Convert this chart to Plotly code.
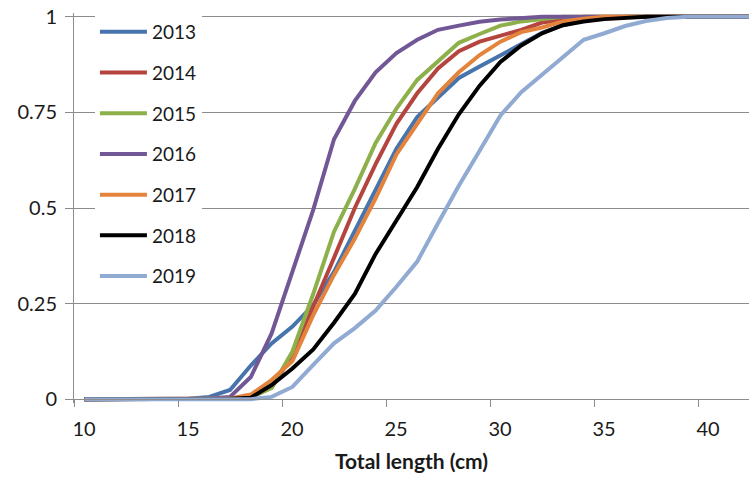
import plotly.graph_objects as go

lengths = list(range(10, 43))

years = ["2013", "2014", "2015", "2016", "2017", "2018", "2019"]

y2013 = [0, 0, 0, 0, 0, 0.001, 0.006, 0.024, 0.088, 0.146, 0.19, 0.246, 0.333, 0.442, 0.55, 0.655,
         0.738, 0.79, 0.84, 0.87, 0.9, 0.93, 0.958, 0.978, 0.99, 0.996, 1, 1, 1, 1, 1, 1, 1]
y2014 = [0, 0, 0, 0, 0, 0, 0, 0.001, 0.005, 0.03, 0.115, 0.24, 0.37, 0.5, 0.615, 0.72,
         0.8, 0.865, 0.91, 0.935, 0.95, 0.966, 0.985, 0.993, 1, 1, 1, 1, 1, 1, 1, 1, 1]
y2015 = [0, 0, 0, 0, 0, 0, 0, 0.001, 0.004, 0.03, 0.125, 0.275, 0.438, 0.55, 0.67, 0.76,
         0.835, 0.885, 0.932, 0.955, 0.977, 0.988, 0.995, 1, 1, 1, 1, 1, 1, 1, 1, 1, 1]
y2016 = [0, 0, 0, 0, 0, 0, 0.002, 0.006, 0.058, 0.172, 0.33, 0.495, 0.68, 0.78, 0.855, 0.905,
         0.94, 0.966, 0.977, 0.987, 0.993, 0.996, 1, 1, 1, 1, 1, 1, 1, 1, 1, 1, 1]
y2017 = [0, 0, 0, 0, 0, 0, 0, 0.002, 0.012, 0.05, 0.1, 0.22, 0.325, 0.42, 0.525, 0.64,
         0.72, 0.8, 0.855, 0.9, 0.935, 0.96, 0.972, 0.988, 0.995, 1, 1, 1, 1, 1, 1, 1, 1]
y2018 = [0, 0, 0, 0, 0, 0, 0, 0.001, 0.004, 0.037, 0.08, 0.13, 0.2, 0.275, 0.38, 0.47,
         0.555, 0.655, 0.745, 0.82, 0.882, 0.925, 0.957, 0.978, 0.988, 0.994, 0.997, 1, 1, 1, 1, 1, 1]
y2019 = [0, 0, 0, 0, 0, 0, 0, 0, 0, 0.006, 0.032, 0.09, 0.146, 0.186, 0.232, 0.294,
         0.36, 0.46, 0.558, 0.65, 0.742, 0.803, 0.848, 0.892, 0.94, 0.957, 0.976, 0.989, 0.997, 1, 1, 1, 1]

series = [y2013, y2014, y2015, y2016, y2017, y2018, y2019]
colors = ["#4874ad", "#b5443f", "#8db04a", "#725796", "#e4833c", "#000000", "#90aad2"]

x_tick_vals = [9.5, 14.5, 19.5, 24.5, 29.5, 34.5, 39.5]
x_tick_text = ["10", "15", "20", "25", "30", "35", "40"]
y_tick_vals = [0, 0.25, 0.5, 0.75, 1]
y_tick_text = ["0", "0.25", "0.5", "0.75", "1"]

FONT = "Lato, 'Open Sans', sans-serif"
GRID = "#8c8c8c"
TXT = "#1a1a1a"

fig = go.Figure()
for name, vals, col in zip(years, series, colors):
    fig.add_trace(go.Scatter(
        x=lengths, y=vals, mode="lines", name=name, legendgroup=name,
        line=dict(color=col, width=4),
    ))

fig.update_layout(
    width=749, height=477,
    margin=dict(l=74, r=0, t=13, b=74, autoexpand=False),
    paper_bgcolor="white", plot_bgcolor="white",
    font=dict(family=FONT, size=19, color=TXT),
    showlegend=True,
    legend=dict(
        x=0.031, y=1.0, xanchor="left", yanchor="top",
        bgcolor="white", borderwidth=0,
        font=dict(family=FONT, size=19, color=TXT),
        tracegroupgap=13, itemwidth=47,
    ),
    xaxis=dict(
        range=[9.5, 41.95], anchor="free", position=0.01 / 1.02,
        tickvals=x_tick_vals, ticktext=x_tick_text, ticklabelshift=10,
        ticklabelstandoff=5,
        ticks="outside", ticklen=7, tickcolor=GRID, tickwidth=1,
        showline=True, linecolor=GRID, linewidth=1,
        showgrid=False, zeroline=False, automargin=False,
        tickfont=dict(family=FONT, size=20, color=TXT),
        title=dict(text="<b>Total length (cm)</b>", standoff=15,
                   font=dict(family=FONT, size=21, color=TXT)),
    ),
    yaxis=dict(
        range=[-0.01, 1.01],
        tickvals=y_tick_vals, ticktext=y_tick_text,
        ticks="outside", ticklen=8, tickcolor=GRID, tickwidth=1,
        ticklabelstandoff=4,
        showline=True, linecolor=GRID, linewidth=1,
        showgrid=True, gridcolor=GRID, gridwidth=1, zeroline=False, automargin=False,
        tickfont=dict(family=FONT, size=20, color=TXT),
    ),
)

fig.write_html("out.html", config={"displayModeBar": False},
               post_script="document.body.style.margin='0px';")
